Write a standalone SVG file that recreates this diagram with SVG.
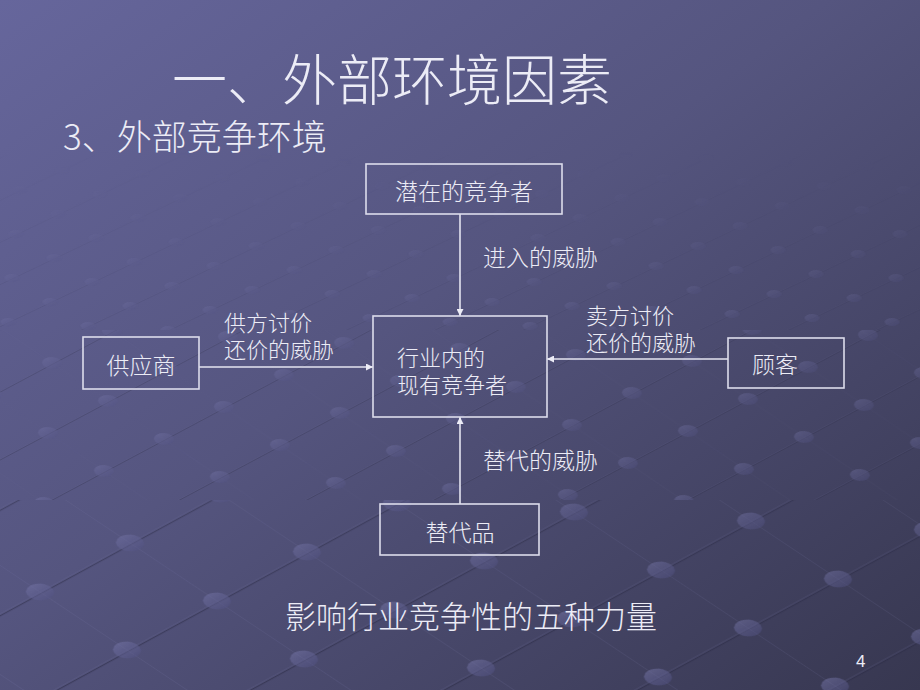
<svg xmlns="http://www.w3.org/2000/svg" width="920" height="690" viewBox="0 0 920 690">
  <defs>
    <linearGradient id="bg" x1="0" y1="0" x2="1" y2="1">
      <stop offset="0" stop-color="#66669c"/>
      <stop offset="0.45" stop-color="#55557f"/>
      <stop offset="1" stop-color="#373750"/>
    </linearGradient>
    <linearGradient id="dotg" x1="0" y1="0" x2="0" y2="1">
      <stop offset="0" stop-color="#7c7cb0"/>
      <stop offset="1" stop-color="#545486"/>
    </linearGradient>
    <pattern id="grid1" patternUnits="userSpaceOnUse" width="100" height="100" patternTransform="matrix(0.9 -0.49 0.87 0.58 -48.5 587.5)">
      <line x1="0" y1="52" x2="100" y2="52" stroke="#2c2c46" stroke-width="1.4" opacity="0.7"/>
      <line x1="0" y1="50.5" x2="100" y2="50.5" stroke="#8a8abb" stroke-width="0.8" opacity="0.3"/>
      <line x1="50" y1="0" x2="50" y2="100" stroke="#8a8abb" stroke-width="0.8" opacity="0.2"/>
      <circle cx="50" cy="50" r="11" fill="url(#dotg)" opacity="0.6"/>
    </pattern>
    <pattern id="grid2" patternUnits="userSpaceOnUse" width="100" height="100" patternTransform="matrix(0.6 -0.32 0.56 0.38 -10 430)">
      <line x1="0" y1="52" x2="100" y2="52" stroke="#2c2c46" stroke-width="1.4" opacity="0.6"/>
      <line x1="0" y1="50.5" x2="100" y2="50.5" stroke="#8a8abb" stroke-width="0.8" opacity="0.3"/>
      <line x1="50" y1="0" x2="50" y2="100" stroke="#8a8abb" stroke-width="0.8" opacity="0.15"/>
      <circle cx="50" cy="50" r="12" fill="url(#dotg)" opacity="0.55"/>
    </pattern>
    <pattern id="grid3" patternUnits="userSpaceOnUse" width="100" height="100" patternTransform="matrix(0.42 -0.2 0.38 0.24 10 300)">
      <line x1="0" y1="52" x2="100" y2="52" stroke="#2c2c46" stroke-width="1.4" opacity="0.4"/>
      <line x1="0" y1="50.5" x2="100" y2="50.5" stroke="#8a8abb" stroke-width="0.8" opacity="0.25"/>
      <circle cx="50" cy="50" r="13" fill="url(#dotg)" opacity="0.5"/>
    </pattern>
    <linearGradient id="fade" x1="0" y1="0" x2="0" y2="1">
      <stop offset="0" stop-color="#fff" stop-opacity="0"/>
      <stop offset="0.22" stop-color="#fff" stop-opacity="0"/>
      <stop offset="0.45" stop-color="#fff" stop-opacity="0.45"/>
      <stop offset="1" stop-color="#fff" stop-opacity="0.8"/>
    </linearGradient>
    <mask id="fm">
      <rect x="0" y="0" width="920" height="690" fill="url(#fade)"/>
    </mask>
    <marker id="arr" viewBox="0 0 10 10" refX="10" refY="5" markerWidth="7" markerHeight="7" markerUnits="userSpaceOnUse" orient="auto">
      <path d="M0,0 L10,5 L0,10 z" fill="#ececf6"/>
    </marker>
    <style>
      .box { fill: none; stroke: #dcdcec; stroke-width: 1.6; }
      .t { font-family: "Noto Sans CJK SC", "Noto Sans", sans-serif; font-weight: 300; fill: #ececf6; }
      .c { stroke: #e4e4f0; stroke-width: 1.6; fill: none; marker-end: url(#arr); }
    </style>
  </defs>

  <rect x="0" y="0" width="920" height="690" fill="url(#bg)"/>
  <g id="background-pattern" mask="url(#fm)">
    <rect x="0" y="150" width="920" height="180" fill="url(#grid3)"/>
    <rect x="0" y="330" width="920" height="170" fill="url(#grid2)"/>
    <rect x="0" y="500" width="920" height="190" fill="url(#grid1)"/>
  </g>

  <g id="title">
    <text class="t" x="172" y="100" font-size="55">一、外部环境因素</text>
    <text class="t" x="63" y="150" font-size="35">3、外部竞争环境</text>
  </g>

  <g id="connectors">
    <line class="c" x1="460" y1="214" x2="460" y2="316"/>
    <line class="c" x1="199" y1="367" x2="373" y2="367"/>
    <line class="c" x1="728" y1="359" x2="547" y2="359"/>
    <line class="c" x1="460" y1="504" x2="460" y2="417"/>
    <text class="t" x="483" y="266" font-size="23">进入的威胁</text>
    <text class="t" x="224" y="331" font-size="22">供方讨价</text>
    <text class="t" x="224" y="358" font-size="22">还价的威胁</text>
    <text class="t" x="586" y="324" font-size="22">卖方讨价</text>
    <text class="t" x="586" y="351" font-size="22">还价的威胁</text>
    <text class="t" x="483" y="469" font-size="23">替代的威胁</text>
  </g>

  <g id="potential">
    <rect class="box" x="366" y="164" width="196" height="50"/>
    <text class="t" x="464" y="200" font-size="23" text-anchor="middle">潜在的竞争者</text>
  </g>
  <g id="industry">
    <rect class="box" x="373" y="316" width="174" height="101"/>
    <text class="t" x="397" y="366" font-size="22">行业内的</text>
    <text class="t" x="397" y="393" font-size="22">现有竞争者</text>
  </g>
  <g id="supplier">
    <rect class="box" x="83" y="337" width="116" height="52"/>
    <text class="t" x="141" y="374" font-size="23" text-anchor="middle">供应商</text>
  </g>
  <g id="customer">
    <rect class="box" x="728" y="338" width="116" height="50"/>
    <text class="t" x="775" y="373" font-size="23" text-anchor="middle">顾客</text>
  </g>
  <g id="substitute">
    <rect class="box" x="380" y="504" width="159" height="51"/>
    <text class="t" x="460" y="541" font-size="23" text-anchor="middle">替代品</text>
  </g>

  <g id="caption">
    <text class="t" x="471" y="628" font-size="31" text-anchor="middle">影响行业竞争性的五种力量</text>
    <text x="856" y="667" font-size="17" font-family="Liberation Sans, Arial, sans-serif" fill="#ececf6">4</text>
  </g>
</svg>
